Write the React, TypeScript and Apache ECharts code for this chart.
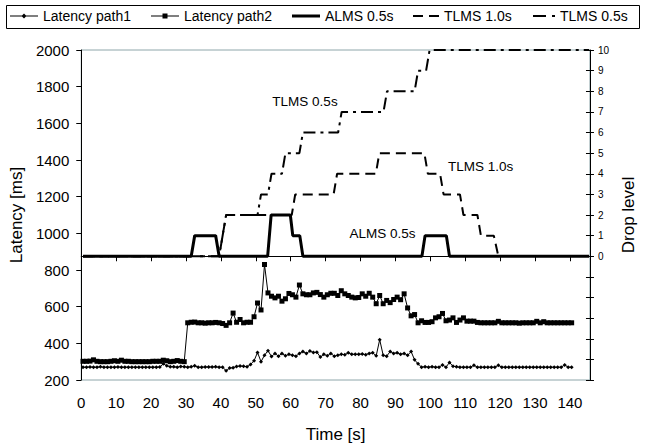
import React, { useEffect, useRef } from "react";
import * as echarts from "echarts";

// Latency samples, one per second (first sample at t = 0.5 s)
const latencyPath1 = [
  270, 270, 271, 270, 270, 272, 270, 270, 270, 270,
  271, 270, 270, 270, 270, 270, 270, 270, 270, 270,
  270, 270, 271, 288, 278, 272, 272, 270, 274, 272,
  270, 272, 278, 270, 270, 271, 271, 271, 272, 270,
  270, 250, 265, 267, 274, 276, 275, 272, 285, 305,
  350, 300, 335, 360, 328, 345, 330, 345, 332, 340,
  335, 330, 345, 355, 345, 358, 350, 352, 325, 340,
  332, 345, 330, 335, 340, 338, 348, 340, 340, 340,
  342, 338, 345, 348, 332, 420, 335, 330, 355, 345,
  348, 340, 345, 335, 355, 310, 288, 270, 272, 270,
  272, 270, 270, 282, 270, 296, 275, 272, 270, 270,
  270, 270, 280, 270, 270, 270, 270, 270, 270, 280,
  270, 270, 270, 270, 270, 270, 270, 270, 270, 270,
  270, 270, 270, 270, 270, 270, 270, 270, 282, 270,
  270,
];
const latencyPath2 = [
  302, 302, 303, 310, 302, 300, 300, 300, 302, 305,
  302, 308, 302, 302, 300, 300, 300, 300, 300, 300,
  302, 302, 302, 308, 305, 300, 302, 306, 302, 300,
  512, 515, 516, 512, 512, 510, 512, 512, 514, 512,
  508, 498, 512, 565, 515, 530, 512, 515, 515, 545,
  620, 582, 830, 675, 657, 648, 657, 630, 643, 672,
  665, 652, 718, 670, 665, 665, 675, 678, 666, 652,
  665, 673, 673, 661, 687, 670, 661, 652, 648, 650,
  670, 657, 673, 652, 616, 661, 616, 634, 622, 639,
  652, 638, 670, 593, 550, 557, 512, 523, 514, 514,
  518, 539, 545, 563, 523, 527, 539, 514, 527, 539,
  521, 521, 521, 514, 512, 512, 512, 512, 512, 520,
  512, 512, 512, 512, 512, 510, 512, 512, 512, 512,
  520, 512, 518, 512, 512, 512, 512, 512, 512, 512,
  512,
];
const latencyStart = 0.5;

// Drop-level step curves (time [s], level)
const almsTimes = [0.5, 31.5, 32.5, 38.5, 39.5, 53.4, 54.4, 59.9, 60.6, 62.6, 63.5, 97.6, 98.5, 104.6, 105.5, 145.5];
const almsLevels = [0, 0, 1, 1, 0, 0, 2, 2, 1, 1, 0, 0, 1, 1, 0, 0];

const tlms10Times = [0.5, 39.5, 41.5, 60.3, 61.3, 72.3, 73.3, 84.4, 85.4, 98.3, 99.3, 102.8, 103.8, 108.5, 109.5, 113.5, 114.5, 118.2, 119.5];
const tlms10Levels = [0, 0, 2, 2, 3, 3, 4, 4, 5, 5, 4, 4, 3, 3, 2, 2, 1, 1, 0];

const tlms05Times = [0.5, 39.5, 41.5, 50.5, 51.5, 53.5, 54.5, 57.5, 58.5, 62.5, 63.5, 73.6, 74.6, 86.6, 87.6, 95.5, 96.5, 98.8, 99.8, 145.5];
const tlms05Levels = [0, 0, 2, 2, 3, 3, 4, 4, 5, 5, 6, 6, 7, 7, 8, 8, 9, 9, 10, 10];

const seriesNames = ["Latency path1", "Latency path2", "ALMS 0.5s", "TLMS 1.0s", "TLMS 0.5s"];

// In-plot annotations: [label, time, drop level]
const annotations: [string, number, number][] = [
  ["TLMS 0.5s", 64.1, 7.5],
  ["TLMS 1.0s", 114.4, 4.37],
  ["ALMS 0.5s", 86.3, 1.1],
];

const FONT = "'Liberation Sans', Arial, Helvetica, sans-serif";

const zipSteps = (t: number[], v: number[]) => t.map((x, i) => [x, v[i]]);
const zipSamples = (v: number[]) => v.map((y, i) => [latencyStart + i, y]);

// legend icon shapes (one legend per entry so each icon gets its own size)
const legendIcons = [
  { icon: "path://M0,3.5h28v1h-28z M14,1.5l2.5,2.5l-2.5,2.5l-2.5,-2.5z", w: 28, h: 5 },
  { icon: "path://M0,3.5h28v1h-28z M11.5,1.5h5v5h-5z", w: 28, h: 5 },
  { icon: "path://M0,0h28v3h-28z", w: 28, h: 3 },
  { icon: "path://M0,0h10v2h-10z M16,0h10v2h-10z", w: 26, h: 2 },
  { icon: "path://M0,0h13v2h-13z M19,0h3v2h-3z", w: 22, h: 2 },
];
const legendLefts = [10, 151, 292, 413, 533];

export default function App() {
  const ref = useRef<HTMLDivElement>(null);
  useEffect(() => {
    if (!ref.current) return;
    const chart = echarts.init(ref.current, undefined, { renderer: "svg" });
    const black = "#000";
    chart.setOption({
      animation: false,
      backgroundColor: "#fff",
      textStyle: { fontFamily: FONT, color: black },
      grid: {
        left: 79,
        right: 41,
        top: 50,
        bottom: 62,
        show: true,
        borderColor: "#8ea6aa",
        borderWidth: 1,
      },
      legend: seriesNames.map((name, i) => ({
        left: legendLefts[i],
        top: 9,
        padding: 0,
        data: [{ name, icon: legendIcons[i].icon }],
        itemWidth: legendIcons[i].w,
        itemHeight: legendIcons[i].h,
        selectedMode: false,
        textStyle: { fontSize: 14, color: black, fontFamily: FONT },
        itemStyle: { color: black },
      })),
      xAxis: {
        type: "value",
        min: 0,
        max: 145.75,
        interval: 10,
        name: "Time [s]",
        nameLocation: "middle",
        nameGap: 46,
        nameTextStyle: { fontSize: 17, color: black, fontFamily: FONT },
        axisLine: { show: true, lineStyle: { color: black, width: 1 } },
        axisTick: { show: true, length: 5, lineStyle: { color: black } },
        axisLabel: {
          fontSize: 15,
          color: black,
          margin: 15,
          fontFamily: FONT,
          formatter: (v: number) => (Math.abs(v % 10) < 1e-9 ? String(v) : ""),
        },
        splitLine: { show: false },
      },
      yAxis: [
        {
          type: "value",
          min: 200,
          max: 2000,
          interval: 200,
          position: "left",
          name: "Latency [ms]",
          nameLocation: "middle",
          nameGap: 52,
          nameTextStyle: { fontSize: 17, color: black, fontFamily: FONT },
          axisLine: { show: true, lineStyle: { color: black, width: 1 } },
          axisTick: { show: true, length: 5, lineStyle: { color: black } },
          axisLabel: {
            fontSize: 15,
            color: black,
            margin: 12,
            fontFamily: FONT,
            formatter: (v: number) => String(v),
          },
          splitLine: { show: false },
        },
        {
          type: "value",
          min: -6,
          max: 10,
          interval: 1,
          position: "right",
          name: "Drop level",
          nameLocation: "middle",
          nameGap: 25,
          nameRotate: 90,
          nameTextStyle: { fontSize: 17, color: black, fontFamily: FONT },
          axisLine: { show: true, lineStyle: { color: black, width: 1 } },
          axisTick: { show: true, length: 4, lineStyle: { color: black } },
          axisLabel: {
            fontSize: 10,
            color: black,
            margin: 8,
            fontFamily: FONT,
            formatter: (v: number) => (v >= 0 ? String(v) : ""),
          },
          splitLine: { show: false },
        },
        {
          type: "value",
          min: -6,
          max: 10,
          interval: 1,
          position: "right",
          axisLine: { show: false },
          axisTick: { show: true, inside: true, length: 4, lineStyle: { color: black } },
          axisLabel: { show: false },
          splitLine: { show: false },
        },
      ],
      series: [
        {
          name: "TLMS 1.0s",
          type: "line",
          yAxisIndex: 1,
          data: zipSteps(tlms10Times, tlms10Levels),
          symbol: "none",
          lineStyle: { color: black, width: 2, type: [10, 6] },
          itemStyle: { color: black },
          z: 2,
        },
        {
          name: "TLMS 0.5s",
          type: "line",
          yAxisIndex: 1,
          data: zipSteps(tlms05Times, tlms05Levels),
          symbol: "none",
          lineStyle: { color: black, width: 2, type: [12, 5, 3, 5] },
          itemStyle: { color: black },
          z: 2,
        },
        {
          name: "ALMS 0.5s",
          type: "line",
          yAxisIndex: 1,
          data: zipSteps(almsTimes, almsLevels),
          symbol: "none",
          lineStyle: { color: black, width: 3 },
          itemStyle: { color: black },
          z: 3,
        },
        {
          name: "Latency path1",
          type: "line",
          yAxisIndex: 0,
          data: zipSamples(latencyPath1),
          symbol: "diamond",
          symbolSize: 4,
          showSymbol: true,
          lineStyle: { color: black, width: 1 },
          itemStyle: { color: black },
          z: 4,
        },
        {
          name: "Latency path2",
          type: "line",
          yAxisIndex: 0,
          data: zipSamples(latencyPath2),
          symbol: "rect",
          symbolSize: 5,
          showSymbol: true,
          lineStyle: { color: black, width: 1 },
          itemStyle: { color: black },
          z: 4,
        },
      ],
    });
    const texts = annotations.map(([label, t, lvl]) => {
      const p = chart.convertToPixel({ xAxisIndex: 0, yAxisIndex: 1 }, [t, lvl]) as number[];
      return {
        type: "text",
        x: p[0],
        y: p[1],
        silent: true,
        style: {
          text: label,
          fill: black,
          font: `13.5px ${FONT}`,
          textAlign: "center",
          textVerticalAlign: "middle",
        },
      };
    });
    chart.setOption({
      graphic: [
        {
          type: "rect",
          shape: { x: 6.5, y: 5.5, width: 633, height: 23 },
          style: { fill: "none", stroke: black, lineWidth: 1 },
          silent: true,
        },
        ...texts,
      ],
    });
    return () => chart.dispose();
  }, []);
  return (
    <div
      ref={ref}
      style={{ position: "fixed", left: 0, top: 0, width: 645, height: 448 }}
    />
  );
}
